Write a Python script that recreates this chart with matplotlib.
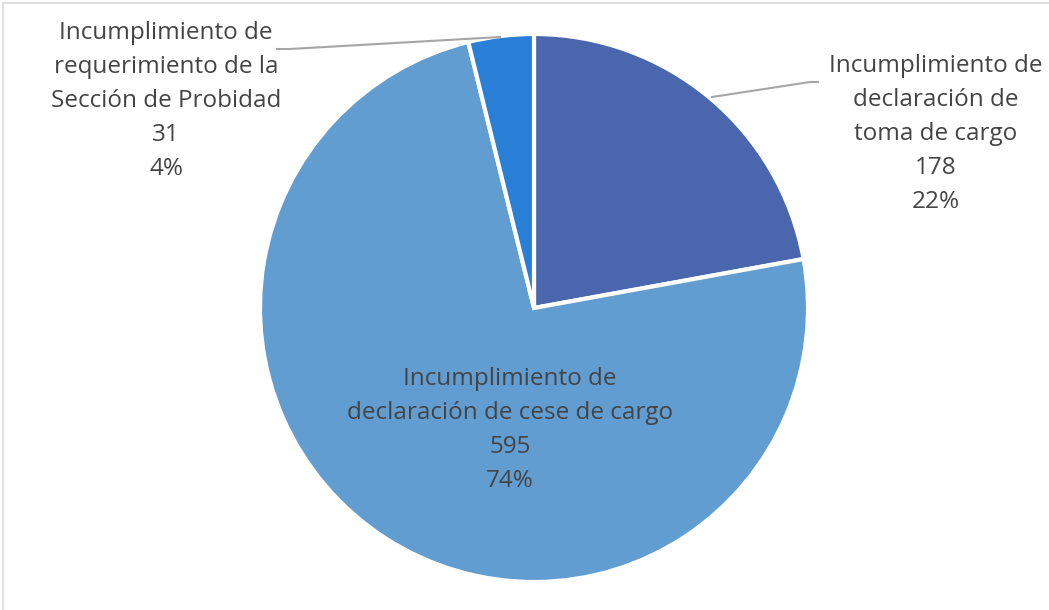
import matplotlib.pyplot as plt
from matplotlib.patches import Rectangle

# data
categories = [
    "Incumplimiento de\ndeclaración de\ntoma de cargo",
    "Incumplimiento de\ndeclaración de cese de cargo",
    "Incumplimiento de\nrequerimiento de la\nSección de Probidad",
]
values = [178, 595, 31]
colors = ["#4A66AC", "#629DD1", "#297FD5"]

W, H = 1049, 610
fig = plt.figure(figsize=(W / 100, H / 100), dpi=100)
ax = fig.add_axes([0, 0, 1, 1])
ax.set_xlim(0, W)
ax.set_ylim(0, H)
ax.set_aspect("equal")
ax.axis("off")

# chart border (only left/top visible in the crop)
ax.add_patch(Rectangle((3, -20), W + 20, H - 3 + 20, fill=False,
                       edgecolor="#D9D9D9", linewidth=1.2))

cx, cy, r = 534, H - 308, 274
ax.pie(values, colors=colors, startangle=90, counterclock=False,
       center=(cx, cy), radius=r, frame=True,
       wedgeprops=dict(edgecolor="white", linewidth=3))
ax.set_xlim(0, W)
ax.set_ylim(0, H)
ax.axis("off")

total = sum(values)
txt = dict(fontsize=17.5, color="#444444", ha="center", va="center",
           family=["Open Sans", "DejaVu Sans"], linespacing=1.56)

def label(i):
    pct = round(values[i] / total * 100)
    return f"{categories[i]}\n{values[i]}\n{pct}%"

ax.text(936, H - 134, label(0), **txt)
ax.text(510, H - 430, label(1), **txt)
ax.text(166, H - 101, label(2), **txt)

# leader lines
ax.plot([712, 810, 818], [H - 97, H - 82, H - 82], color="#A6A6A6", lw=1.5)
ax.plot([277, 290, 500], [H - 49, H - 49, H - 37], color="#A6A6A6", lw=1.5)

fig.savefig("out.png", dpi=100)
